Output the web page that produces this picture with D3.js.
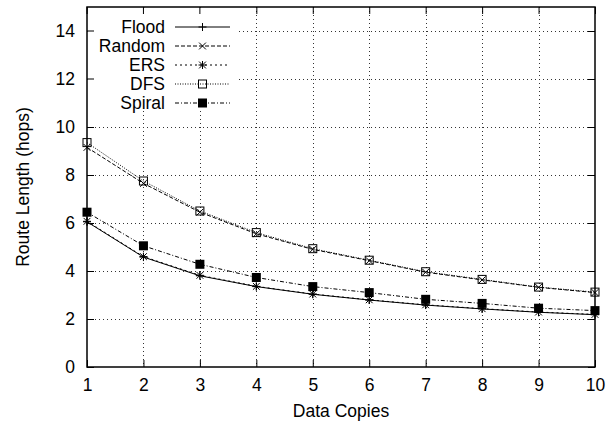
<!DOCTYPE html>
<html>
<head>
<meta charset="utf-8">
<script src="https://cdn.jsdelivr.net/npm/d3@7"></script>
<style>
  html, body { margin: 0; padding: 0; background: #fff; }
  svg text { font-family: "Liberation Sans", Arial, Helvetica, sans-serif; fill: #000; }
</style>
</head>
<body>
<svg id="chart" width="608" height="426"></svg>
<script>
// Number of data copies on the x axis
const copies = [1, 2, 3, 4, 5, 6, 7, 8, 9, 10];

// Average route length (hops) per search strategy
const flood  = [6.05, 4.58, 3.80, 3.35, 3.03, 2.79, 2.58, 2.42, 2.28, 2.18];
const random = [9.15, 7.65, 6.45, 5.55, 4.90, 4.43, 3.95, 3.63, 3.32, 3.10];
const ers    = [6.07, 4.60, 3.82, 3.36, 3.04, 2.80, 2.59, 2.43, 2.29, 2.19];
const dfs    = [9.35, 7.75, 6.50, 5.60, 4.93, 4.45, 3.97, 3.65, 3.33, 3.12];
const spiral = [6.45, 5.05, 4.28, 3.73, 3.35, 3.10, 2.82, 2.65, 2.45, 2.35];

const seriesNames = ["Flood", "Random", "ERS", "DFS", "Spiral"];
const xTicks = [1, 2, 3, 4, 5, 6, 7, 8, 9, 10];
const yTicks = [0, 2, 4, 6, 8, 10, 12, 14];

const xLabel = "Data Copies";
const yLabel = "Route Length (hops)";

// Line dash and marker per series
const styles = {
  Flood:  { dash: null,        marker: "plus" },
  Random: { dash: "4,2",       marker: "cross" },
  ERS:    { dash: "2,3",       marker: "star" },
  DFS:    { dash: "1,1.5",     marker: "box" },
  Spiral: { dash: "4,2,1,2",   marker: "filledbox" }
};
const seriesData = { Flood: flood, Random: random, ERS: ers, DFS: dfs, Spiral: spiral };

const W = 608, H = 426;
const margin = { left: 87, top: 7, right: 13, bottom: 59 };
const iw = W - margin.left - margin.right;
const ih = H - margin.top - margin.bottom;
const FONT = 17.5;

const svg = d3.select("#chart");
const g = svg.append("g").attr("transform", `translate(${margin.left},${margin.top})`);

const x = d3.scaleLinear().domain([1, 10]).range([0, iw]);
const y = d3.scaleLinear().domain([0, 15]).range([ih, 0]);

// Dotted grid
const grid = g.append("g").attr("class", "grid")
  .attr("stroke", "#333").attr("stroke-width", 1).attr("stroke-dasharray", "1,3");
grid.selectAll("line.gx").data(xTicks.slice(1, -1)).join("line")
  .attr("x1", d => Math.round(x(d)) + 0.5).attr("x2", d => Math.round(x(d)) + 0.5)
  .attr("y1", 0).attr("y2", ih);
grid.selectAll("line.gy").data(yTicks.slice(1)).join("line")
  .attr("y1", d => Math.round(y(d)) + 0.5).attr("y2", d => Math.round(y(d)) + 0.5)
  .attr("x1", 0).attr("x2", iw);

// Axes with inward ticks on all four sides
function styleAxis(sel) {
  sel.select(".domain").remove();
  sel.selectAll(".tick line").attr("stroke", "#000").attr("stroke-width", 1);
  sel.selectAll(".tick text").attr("font-size", FONT).attr("font-family", null);
}
g.append("g").attr("transform", `translate(0,${ih})`)
  .call(d3.axisBottom(x).tickValues(xTicks).tickFormat(d3.format("d")).tickSize(-7).tickPadding(11.5))
  .call(styleAxis);
g.append("g")
  .call(d3.axisLeft(y).tickValues(yTicks).tickFormat(d3.format("d")).tickSize(-7).tickPadding(12))
  .call(styleAxis);
g.append("g")
  .call(d3.axisTop(x).tickValues(xTicks).tickFormat("").tickSize(-7))
  .call(styleAxis);
g.append("g").attr("transform", `translate(${iw},0)`)
  .call(d3.axisRight(y).tickValues(yTicks).tickFormat("").tickSize(-7))
  .call(styleAxis);

// Marker shapes
function drawMarker(sel, type, cx, cy) {
  const s = 4;
  const m = sel.append("g").attr("transform", `translate(${cx},${cy})`)
    .attr("stroke", "#000").attr("stroke-width", 1).attr("fill", "none");
  if (type === "plus" || type === "star") {
    m.append("line").attr("x1", -s).attr("x2", s).attr("y1", 0).attr("y2", 0);
    m.append("line").attr("x1", 0).attr("x2", 0).attr("y1", -s).attr("y2", s);
  }
  if (type === "cross" || type === "star") {
    const c = 3.4;
    m.append("line").attr("x1", -c).attr("x2", c).attr("y1", -c).attr("y2", c);
    m.append("line").attr("x1", -c).attr("x2", c).attr("y1", c).attr("y2", -c);
  }
  if (type === "box") {
    m.append("rect").attr("x", -4).attr("y", -4).attr("width", 8).attr("height", 8);
  }
  if (type === "filledbox") {
    m.append("rect").attr("x", -4.5).attr("y", -4.5).attr("width", 9).attr("height", 9)
      .attr("fill", "#000").attr("stroke", "none");
  }
}

// Series lines and point markers
const line = d3.line().x((d, i) => x(copies[i])).y(d => y(d));
const plot = g.append("g");
seriesNames.forEach(name => {
  const st = styles[name];
  plot.append("path").datum(seriesData[name])
    .attr("d", line).attr("fill", "none").attr("stroke", "#000").attr("stroke-width", 1)
    .attr("stroke-dasharray", st.dash);
  seriesData[name].forEach((v, i) => drawMarker(plot, st.marker, x(copies[i]), y(v)));
});

// Key, with an opaque background over the grid
const key = g.append("g");
key.append("rect").attr("x", 0.5).attr("y", 0.5).attr("width", 151).attr("height", 103).attr("fill", "#fff");
// redraw the inward ticks that sit under the key
key.selectAll("line.kt").data(xTicks.filter(d => x(d) < 152)).join("line")
  .attr("x1", d => x(d)).attr("x2", d => x(d)).attr("y1", 0).attr("y2", 7)
  .attr("stroke", "#000");
key.selectAll("line.kl").data(yTicks.filter(d => y(d) < 104)).join("line")
  .attr("y1", d => y(d)).attr("y2", d => y(d)).attr("x1", 0).attr("x2", 7)
  .attr("stroke", "#000");
seriesNames.forEach((name, i) => {
  const cy = 20 + i * 19;
  const st = styles[name];
  key.append("text").attr("x", 78).attr("y", cy + 6).attr("text-anchor", "end")
    .attr("font-size", FONT).text(name);
  key.append("line").attr("x1", 88).attr("x2", 143).attr("y1", cy).attr("y2", cy)
    .attr("stroke", "#000").attr("stroke-width", 1).attr("stroke-dasharray", st.dash);
  drawMarker(key, st.marker, 115.5, cy);
});

// Plot border
g.append("rect").attr("x", 0).attr("y", 0).attr("width", iw).attr("height", ih)
  .attr("fill", "none").attr("stroke", "#000").attr("stroke-width", 1.5);

// Axis titles
svg.append("text").attr("x", margin.left + iw / 2).attr("y", 417)
  .attr("text-anchor", "middle").attr("font-size", FONT).text(xLabel);
svg.append("text").attr("transform", `translate(29,${margin.top + ih / 2}) rotate(-90)`)
  .attr("text-anchor", "middle").attr("font-size", FONT).text(yLabel);
</script>
</body>
</html>
